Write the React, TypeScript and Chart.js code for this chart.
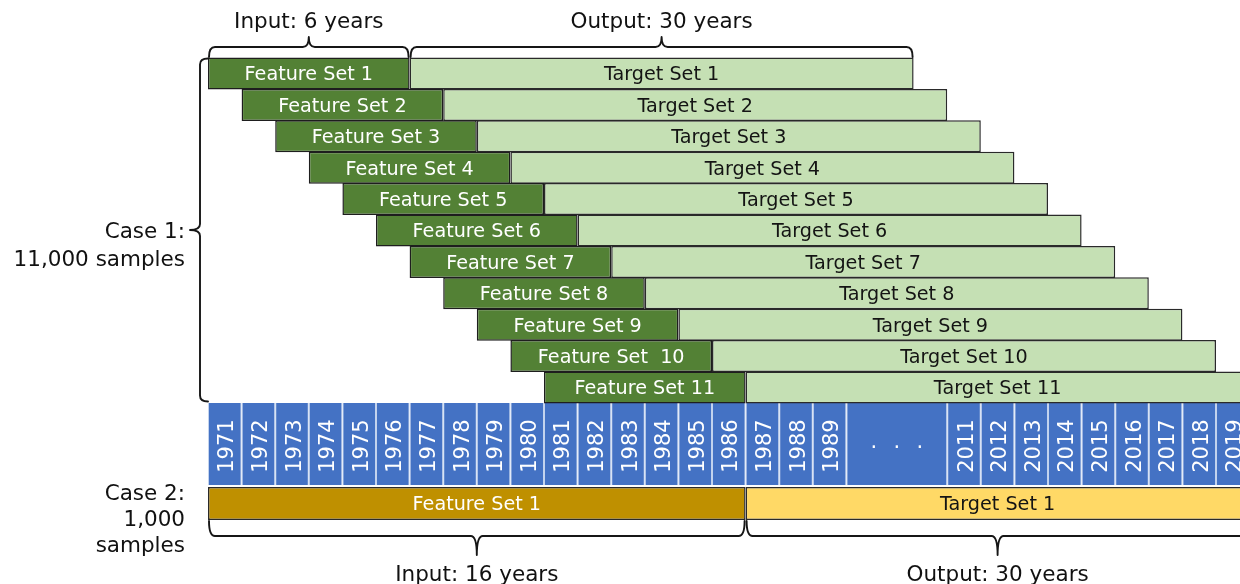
import { useEffect, useRef } from 'react';
import { Chart, registerables } from 'chart.js';

Chart.register(...registerables);

// ---- Data (x positions are year-cell indices on the compressed timeline) ----
const featureLabels = [
  'Feature Set 1', 'Feature Set 2', 'Feature Set 3', 'Feature Set 4', 'Feature Set 5',
  'Feature Set 6', 'Feature Set 7', 'Feature Set 8', 'Feature Set 9', 'Feature Set  10', 'Feature Set 11',
];
const targetLabels = [
  'Target Set 1', 'Target Set 2', 'Target Set 3', 'Target Set 4', 'Target Set 5',
  'Target Set 6', 'Target Set 7', 'Target Set 8', 'Target Set 9', 'Target Set 10', 'Target Set 11',
];
const featureStart = [0, 1, 2, 3, 4, 5, 6, 7, 8, 9, 10];
const featureEnd = [6, 7, 8, 9, 10, 11, 12, 13, 14, 15, 16];
const targetEnd = [21, 22, 23, 24, 25, 26, 27, 28, 29, 30, 31];

const yearLabels = [
  '1971', '1972', '1973', '1974', '1975', '1976', '1977', '1978', '1979', '1980',
  '1981', '1982', '1983', '1984', '1985', '1986', '1987', '1988', '1989', '. . .',
  '2011', '2012', '2013', '2014', '2015', '2016', '2017', '2018', '2019',
];
const yearStart = [0, 1, 2, 3, 4, 5, 6, 7, 8, 9, 10, 11, 12, 13, 14, 15, 16, 17, 18, 19, 22, 23, 24, 25, 26, 27, 28, 29, 30];
const yearEnd = [1, 2, 3, 4, 5, 6, 7, 8, 9, 10, 11, 12, 13, 14, 15, 16, 17, 18, 19, 22, 23, 24, 25, 26, 27, 28, 29, 30, 31];

const case2Labels = ['Feature Set 1', 'Target Set 1'];
const case2Start = [0, 16];
const case2End = [16, 31];

const topBraceLabels = ['Input: 6 years', 'Output: 30 years'];
const topBraceStart = [0, 6];
const topBraceEnd = [6, 21];
const bottomBraceLabels = ['Input: 16 years', 'Output: 30 years'];
const bottomBraceStart = [0, 16];
const bottomBraceEnd = [16, 31];

const case1Label = ['Case 1:', '11,000 samples'];
const case2Label = ['Case 2:', '1,000', 'samples'];

// ---- Layout constants ----
const ROW_H = 32;
const YEAR_H = 82;
const CASE2_H = 33;
const YEAR_ROW = 11.8;
const CASE2_ROW = 13.694;
const Y_MIN = -2.3408;
const Y_MAX = 16.258;
const X_MAX = 30.714;
const FONT = '"DejaVu Sans", "Liberation Sans", sans-serif';
const BAR_FONT = 19.2;
const YEAR_FONT = 21;
const LABEL_FONT = 21.5;

function drawBrace(
  ctx: CanvasRenderingContext2D,
  u1: number, u2: number, v: number, s: number,
  endLen: number, tipLen: number, vertical: boolean,
) {
  const r = 6;
  const um = (u1 + u2) / 2;
  const P = (u: number, w: number): [number, number] => (vertical ? [w, u] : [u, w]);
  ctx.beginPath();
  ctx.moveTo(...P(u1, v + s * endLen));
  ctx.quadraticCurveTo(...P(u1, v), ...P(u1 + r, v));
  ctx.lineTo(...P(um - r, v));
  ctx.quadraticCurveTo(...P(um, v), ...P(um, v - s * tipLen));
  ctx.quadraticCurveTo(...P(um, v), ...P(um + r, v));
  ctx.lineTo(...P(u2 - r, v));
  ctx.quadraticCurveTo(...P(u2, v), ...P(u2, v + s * endLen));
  ctx.stroke();
}

const overlayPlugin = {
  id: 'overlay',
  afterDatasetsDraw(chart: any) {
    const ctx: CanvasRenderingContext2D = chart.ctx;
    const xs = chart.scales.x;
    const ys = chart.scales.y;
    ctx.save();

    // Bar labels
    const barText = (dsIndex: number, labels: string[], color: string, size: number) => {
      const meta = chart.getDatasetMeta(dsIndex);
      ctx.font = `${size}px ${FONT}`;
      ctx.fillStyle = color;
      ctx.textAlign = 'center';
      ctx.textBaseline = 'alphabetic';
      meta.data.forEach((el: any, j: number) => {
        const p = el.getProps(['x', 'y', 'base'], true);
        const cx = (p.x + p.base) / 2;
        ctx.fillText(labels[j], cx, p.y + size * 0.729 / 2);
      });
    };
    barText(0, featureLabels, '#ffffff', BAR_FONT);
    barText(1, targetLabels, '#141414', BAR_FONT);
    barText(3, [case2Labels[0]], '#ffffff', BAR_FONT);
    barText(4, [case2Labels[1]], '#141414', BAR_FONT);

    // Year labels (rotated)
    const ymeta = chart.getDatasetMeta(2);
    ctx.font = `${YEAR_FONT}px ${FONT}`;
    ctx.fillStyle = '#ffffff';
    ymeta.data.forEach((el: any, j: number) => {
      const p = el.getProps(['x', 'y', 'base'], true);
      const cx = (p.x + p.base) / 2;
      const label = yearLabels[j];
      if (label.startsWith('.')) {
        const parts = label.split(' ');
        const gap = 23;
        ctx.textAlign = 'center';
        ctx.textBaseline = 'alphabetic';
        parts.forEach((d, k) => {
          ctx.fillText(d, cx + (k - (parts.length - 1) / 2) * gap, p.y + 3.5);
        });
      } else {
        ctx.save();
        ctx.translate(cx + 1, p.y + 2);
        ctx.rotate(-Math.PI / 2);
        ctx.textAlign = 'center';
        ctx.textBaseline = 'alphabetic';
        ctx.fillText(label, 0, YEAR_FONT * 0.729 / 2);
        ctx.restore();
      }
    });

    // Braces
    ctx.strokeStyle = '#161616';
    ctx.lineWidth = 1.9;
    ctx.lineJoin = 'round';
    ctx.lineCap = 'round';
    const rowTop = ys.getPixelForValue(0) - ROW_H / 2;
    const rowBottom = ys.getPixelForValue(featureLabels.length - 1) + ROW_H / 2;
    const caseBottom = ys.getPixelForValue(CASE2_ROW) + CASE2_H / 2;
    ctx.font = `${LABEL_FONT}px ${FONT}`;
    ctx.fillStyle = '#111111';
    ctx.textAlign = 'center';
    ctx.textBaseline = 'alphabetic';

    const topV = rowTop - 10.5;
    topBraceLabels.forEach((lab, i) => {
      const a = xs.getPixelForValue(topBraceStart[i]) + 1;
      const b = xs.getPixelForValue(topBraceEnd[i]) - 1;
      drawBrace(ctx, a, b, topV, 1, 10, 10, false);
      ctx.fillText(lab, (a + b) / 2, topV - 10 - 9);
    });

    const botV = caseBottom + 16;
    bottomBraceLabels.forEach((lab, i) => {
      const a = xs.getPixelForValue(bottomBraceStart[i]) + 1;
      const b = xs.getPixelForValue(bottomBraceEnd[i]) - 1;
      drawBrace(ctx, a, b, botV, -1, 15, 19, false);
      ctx.fillText(lab, (a + b) / 2, botV + 19 + 26);
    });

    // Left brace for case 1
    const leftX = xs.getPixelForValue(0) - 8;
    drawBrace(ctx, rowTop + 1, rowBottom - 2, leftX, 1, 8, 10, true);
    const tipY = (rowTop + 1 + rowBottom - 2) / 2;
    ctx.textAlign = 'right';
    const labelRight = leftX - 15;
    case1Label.forEach((t, k) => ctx.fillText(t, labelRight, tipY + 7.5 + k * 28));
    const c2y = ys.getPixelForValue(CASE2_ROW);
    case2Label.forEach((t, k) => ctx.fillText(t, labelRight, c2y - 3.5 + k * 26));

    ctx.restore();
  },
};

export default function App() {
  const ref = useRef<HTMLCanvasElement>(null);
  useEffect(() => {
    document.body.style.margin = '0';
    const canvas = ref.current!;
    const rows = featureLabels.map((_, i) => i);
    const common = { borderSkipped: false, grouped: false, inflateAmount: 0 } as any;
    const chart = new Chart(canvas, {
      type: 'bar',
      data: {
        datasets: [
          {
            ...common,
            label: 'Feature sets',
            data: rows.map((i) => ({ x: [featureStart[i], featureEnd[i]], y: i })),
            backgroundColor: '#538135',
            borderColor: '#1e1e1e',
            borderWidth: 1.5,
            barThickness: ROW_H,
          },
          {
            ...common,
            label: 'Target sets',
            data: rows.map((i) => ({ x: [featureEnd[i], targetEnd[i]], y: i })),
            backgroundColor: '#C5E0B4',
            borderColor: '#2a2a2a',
            borderWidth: 1.5,
            barThickness: ROW_H,
          },
          {
            ...common,
            label: 'Years',
            data: yearLabels.map((_, j) => ({ x: [yearStart[j], yearEnd[j]], y: YEAR_ROW })),
            backgroundColor: '#4472C4',
            borderColor: '#c3d3ee',
            borderWidth: { left: 1, right: 1, top: 0, bottom: 0 },
            barThickness: YEAR_H,
          },
          {
            ...common,
            label: 'Case 2 feature',
            data: [{ x: [case2Start[0], case2End[0]], y: CASE2_ROW }],
            backgroundColor: '#BF9000',
            borderColor: '#2a2a2a',
            borderWidth: 1.5,
            barThickness: CASE2_H,
          },
          {
            ...common,
            label: 'Case 2 target',
            data: [{ x: [case2Start[1], case2End[1]], y: CASE2_ROW }],
            backgroundColor: '#FFD966',
            borderColor: '#2a2a2a',
            borderWidth: 1.5,
            barThickness: CASE2_H,
          },
        ] as any,
      },
      options: {
        indexAxis: 'y',
        responsive: false,
        animation: false,
        layout: { padding: { left: 208, right: 0, top: 0, bottom: 0 }, autoPadding: false } as any,
        datasets: { bar: { grouped: false } } as any,
        scales: {
          x: { type: 'linear', min: 0, max: X_MAX, display: false, offset: false, grace: 0, bounds: 'data' } as any,
          y: { type: 'linear', min: Y_MIN, max: Y_MAX, reverse: true, display: false, offset: false, grace: 0, bounds: 'data' } as any,
        },
        plugins: { legend: { display: false }, tooltip: { enabled: false } },
      },
      plugins: [overlayPlugin],
    });
    return () => chart.destroy();
  }, []);
  return (
    <div style={{ position: 'absolute', left: 0, top: 0, width: 1240, height: 584 }}>
      <canvas ref={ref} width={1240} height={584} style={{ display: 'block', width: 1240, height: 584 }} />
    </div>
  );
}
